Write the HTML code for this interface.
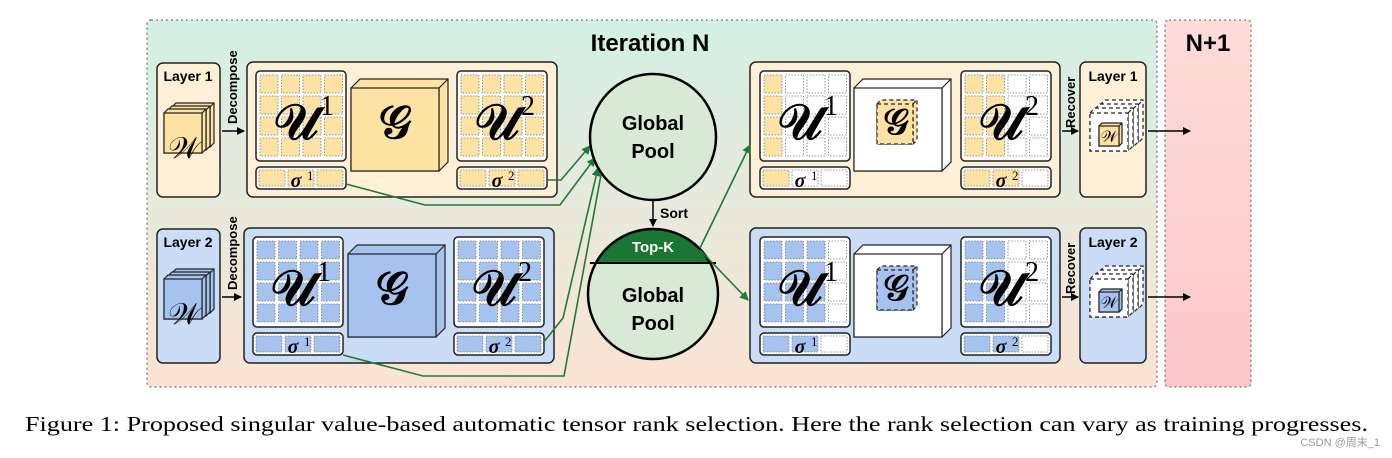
<!DOCTYPE html>
<html><head><meta charset="utf-8"><style>
body{margin:0;width:1392px;height:458px;background:#fff;overflow:hidden}
svg{display:block}
text{font-family:"Liberation Sans",sans-serif}
</style></head><body>
<svg id="s" width="1392" height="458" xmlns="http://www.w3.org/2000/svg">
<defs>
<linearGradient id="bg" x1="0" y1="0" x2="0" y2="1"><stop offset="0" stop-color="#d3f0e4"/><stop offset="1" stop-color="#fbe3d3"/></linearGradient>
<linearGradient id="pk" x1="0" y1="0" x2="0" y2="1"><stop offset="0" stop-color="#fddcd8"/><stop offset="1" stop-color="#fcc7cc"/></linearGradient>
<marker id="ab" markerWidth="8" markerHeight="8" refX="7" refY="4" orient="auto" markerUnits="userSpaceOnUse"><path d="M0,0L8,4L0,8z" fill="#000"/></marker>
<marker id="ag" markerWidth="9" markerHeight="9" refX="8" refY="4.5" orient="auto" markerUnits="userSpaceOnUse"><path d="M0,0L9,4.5L0,9z" fill="#1e7a35"/></marker>
</defs>
<rect x="147" y="20" width="1010" height="367" rx="4" fill="url(#bg)" stroke="#555" stroke-dasharray="2,3"/>
<rect x="1165" y="20" width="86" height="367" rx="4" fill="url(#pk)" stroke="#555" stroke-dasharray="2,3"/>
<text x="650" y="51" font-size="24" font-weight="bold" text-anchor="middle">Iteration N</text>
<text x="1208" y="51" font-size="24" font-weight="bold" text-anchor="middle">N+1</text>
<g id="g"></g>
<text x="25" y="431" font-size="21" textLength="1343" lengthAdjust="spacingAndGlyphs" style='font-family:"Liberation Serif",serif'>Figure 1: Proposed singular value-based automatic tensor rank selection. Here the rank selection can vary as training progresses.</text>
<text x="1380" y="446" font-size="11" fill="#999" text-anchor="end" style='font-family:"Liberation Sans","Noto Sans CJK SC",sans-serif'>CSDN @周末_1</text>
</svg>
<script>
var o='';
function R(x,y,w,h,f,st,extra){return '<rect x="'+x+'" y="'+y+'" width="'+w+'" height="'+h+'" fill="'+f+'" '+(st||'')+' '+(extra||'')+'/>';}
var Y={fill:'#fde3a3',box:'#fdf0d6'},B={fill:'#a6c3f0',box:'#cbdcf6'};
function mat(x,y,c,nc,label){
 o+=R(x,y,90,90,'#fff','stroke="#222" stroke-width="1.5"','rx="4"');
 for(var i=0;i<4;i++)for(var j=0;j<4;j++){o+=R(x+4+j*21.5,y+4+i*21,18,18,j<nc?c.fill:'#fff','stroke="#777" stroke-width="0.8" stroke-dasharray="1.5,1.5"');}
 o+='<text x="'+(x+40)+'" y="'+(y+68)+'" font-size="50" font-weight="bold" text-anchor="middle" style="font-family:Liberation Serif,serif">𝒰</text>';
 o+='<text x="'+(x+64)+'" y="'+(y+44)+'" font-size="28" style="font-family:Liberation Serif,serif">'+label+'</text>';
}
function sig(x,y,c,nc,label){
 o+=R(x,y,90,22,'#fff','stroke="#222" stroke-width="1.5"','rx="4"');
 for(var j=0;j<3;j++)o+=R(x+3+j*29,y+3,26,16,j<nc?c.fill:'#fff','stroke="#777" stroke-width="0.8" stroke-dasharray="1.5,1.5"');
 o+='<text x="'+(x+40)+'" y="'+(y+20)+'" font-size="20" font-weight="bold" font-style="italic" text-anchor="middle" style="font-family:Liberation Serif,serif">σ</text><text x="'+(x+51)+'" y="'+(y+13)+'" font-size="13" style="font-family:Liberation Serif,serif">'+label+'</text>';
}
function cube(x,y,w,h,d,f,dash){
 var st='stroke="#222" stroke-width="1.2"'+(dash?' stroke-dasharray="4,3"':'');
 o+='<path d="M'+x+','+(y+d)+'L'+(x+d)+','+y+'L'+(x+w+d)+','+y+'L'+(x+w+d)+','+(y+h)+'L'+(x+w)+','+(y+h+d)+'L'+x+','+(y+h+d)+'Z" fill="'+f+'" '+st+'/>';
 o+='<path d="M'+(x+w)+','+(y+d)+'L'+(x+w+d)+','+y+'M'+(x+w)+','+(y+d)+'L'+(x+w)+','+(y+h+d)+'" fill="none" '+st+'/>';
 o+=R(x,y+d,w,h,f,st);
}
function G(x,y,s){o+='<text x="'+x+'" y="'+y+'" font-size="'+s+'" font-weight="bold" text-anchor="middle" style="font-family:Liberation Serif,serif">𝒢</text>';}
function row(y,c,ln,dx,nr){
 o+=R(157,y+1,63,134,c.box,'stroke="#222" stroke-width="1.5"','rx="6"');
 o+='<text x="188" y="'+(y+19)+'" font-size="14" font-weight="bold" text-anchor="middle">Layer '+ln+'</text>';
 for(var k=2;k>=0;k--)cube(164+k*4,y+47-k*3,38,40,4,c.fill);
 o+='<text x="184" y="'+(y+96)+'" font-size="30" text-anchor="middle" style="font-family:Liberation Serif,serif">𝒲</text>';
 o+='<text transform="translate('+(237)+','+(y+62)+') rotate(-90)" font-size="13" font-weight="bold">Decompose</text>';
 o+='<line x1="222" y1="'+(y+69)+'" x2="'+(244+dx)+'" y2="'+(y+69)+'" stroke="#000" stroke-width="1.5" marker-end="url(#ab)"/>';
 var bx=247+dx;
 o+=R(bx,y,310,135,c.box,'stroke="#222" stroke-width="1.5"','rx="6"');
 mat(bx+9,y+9,c,4,'1');mat(bx+210,y+9,c,4,'2');
 sig(bx+9,y+105,c,3,'1');sig(bx+210,y+105,c,3,'2');
 cube(bx+104,y+17,88,83,9,c.fill);G(bx+148,y+76,46);
 o+=R(750,y,310,135,c.box,'stroke="#222" stroke-width="1.5"','rx="6"');
 mat(760,y+9,c,nr[0],'1');mat(961,y+9,c,nr[1],'2');
 sig(760,y+105,c,nr[2],'1');sig(961,y+105,c,nr[3],'2');
 cube(854,y+17,88,83,9,'#fff');
 cube(877,y+38,36,40,4,c.fill,true);G(896,y+72,36);
 o+='<text transform="translate(1075,'+(y+66)+') rotate(-90)" font-size="13" font-weight="bold">Recover</text>';
 o+='<line x1="1062" y1="'+(y+69)+'" x2="1078" y2="'+(y+69)+'" stroke="#000" stroke-width="1.5" marker-end="url(#ab)"/>';
 o+=R(1080,y,66,135,c.box,'stroke="#222" stroke-width="1.5"','rx="6"');
 o+='<text x="1113" y="'+(y+19)+'" font-size="14" font-weight="bold" text-anchor="middle">Layer '+ln+'</text>';
 for(var k=2;k>=0;k--)cube(1090+k*5,y+46-k*4,38,38,5,'#fff',true);
 cube(1099,y+61,20,20,3,c.fill);
 o+='<text x="1109" y="'+(y+80)+'" font-size="16" text-anchor="middle" style="font-family:Liberation Serif,serif">𝒲</text>';
 o+='<line x1="1148" y1="'+(y+69)+'" x2="1190" y2="'+(y+69)+'" stroke="#000" stroke-width="1.5" marker-end="url(#ab)"/>';
}
row(62,Y,1,0,[1,2,1,2]);
row(228,B,2,-3,[3,2,2,2]);
var gs='fill="none" stroke="#1e7a35" stroke-width="1.6"';
o+='<polyline points="547,180 561,180 590,146" '+gs+' marker-end="url(#ag)"/>';
o+='<polyline points="346,184 425,205 560,205 595,158" '+gs+' marker-end="url(#ag)"/>';
o+='<polyline points="543,343 563,318 598,168" '+gs+' marker-end="url(#ag)"/>';
o+='<polyline points="343,355 423,376 564,376 603,164" '+gs+' marker-end="url(#ag)"/>';
o+='<circle cx="653" cy="137" r="63" fill="#d8ead5" stroke="#000" stroke-width="2.5"/>';
o+='<text x="653" y="130" font-size="20" font-weight="bold" text-anchor="middle">Global</text><text x="653" y="158" font-size="20" font-weight="bold" text-anchor="middle">Pool</text>';
o+='<line x1="653" y1="200" x2="653" y2="226" stroke="#000" stroke-width="1.5" marker-end="url(#ab)"/>';
o+='<text x="660" y="218" font-size="14" font-weight="bold">Sort</text>';
o+='<clipPath id="cp"><circle cx="653" cy="294" r="65"/></clipPath>';
o+='<circle cx="653" cy="294" r="65" fill="#d8ead5"/>';
o+='<rect x="585" y="226" width="140" height="37" fill="#1b7533" clip-path="url(#cp)"/>';
o+='<line x1="590" y1="263" x2="716" y2="263" stroke="#000" stroke-width="2"/>';
o+='<circle cx="653" cy="294" r="65" fill="none" stroke="#000" stroke-width="2.5"/>';
o+='<text x="653" y="252" font-size="15" font-weight="bold" fill="#fff" text-anchor="middle">Top-K</text>';
o+='<text x="653" y="302" font-size="20" font-weight="bold" text-anchor="middle">Global</text><text x="653" y="330" font-size="20" font-weight="bold" text-anchor="middle">Pool</text>';
o+='<line x1="700" y1="248" x2="750" y2="145" '+gs+' marker-end="url(#ag)"/>';
o+='<line x1="700" y1="250" x2="748" y2="300" '+gs+' marker-end="url(#ag)"/>';
document.getElementById('g').innerHTML=o;
</script>
</body></html>
